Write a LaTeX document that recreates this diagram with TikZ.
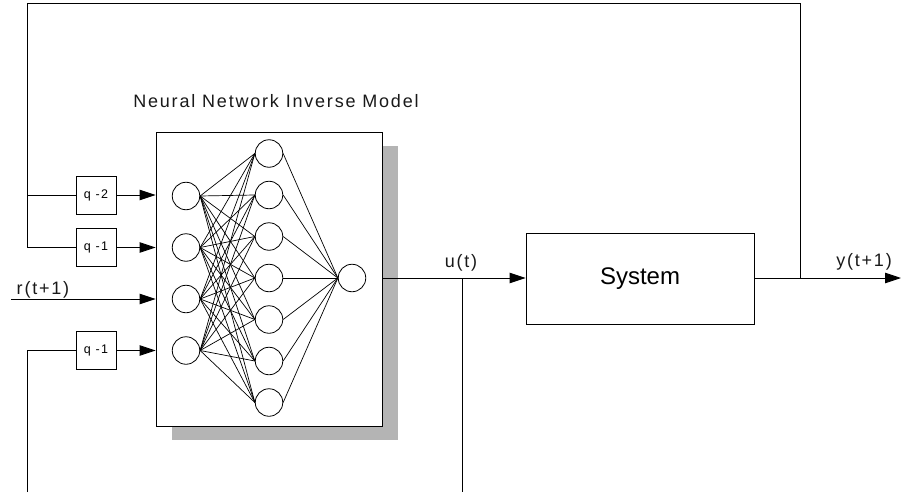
\documentclass[tikz,border=0pt]{standalone}
\usepackage{fontspec}
\setmainfont{Liberation Sans}
\newfontfamily\spaced[LetterSpace=10]{Liberation Sans}
\usetikzlibrary{arrows.meta}
\definecolor{shadowgray}{RGB}{180,180,180}
\begin{document}
\begin{tikzpicture}[x=1pt,y=-1pt,
  wire/.style={draw=black,line width=0.9pt},
  arr/.style={wire,-{Triangle[length=16pt,width=10.5pt]}},
  syn/.style={draw=black,line width=0.7pt},
  neuron/.style={circle,draw,line width=0.8pt,minimum size=27.5pt,inner sep=0pt},
  delay/.style={draw,line width=0.8pt,minimum width=40pt,minimum height=38pt,
    inner sep=0pt,font=\spaced\fontsize{12.5}{14}\selectfont},
  lbl/.style={font=\spaced\fontsize{18}{20}\selectfont,inner sep=0pt,text=black!90},
]
\useasboundingbox (0,0) rectangle (901,492);

% network block with its drop shadow
\fill[shadowgray] (172,146) rectangle (398,440);
\node[draw,fill=white,line width=0.9pt,minimum width=226pt,minimum height=294pt,
  inner sep=0pt] (net) at (269,279) {};
\node[lbl] (title) at (276,101.5) {Neural Network Inverse Model};

% neurons
\foreach \i/\y in {1/196,2/247.5,3/299,4/350.5}
  \node[neuron] (in\i) at (186,\y) {};
\foreach \j/\y in {1/153.5,2/195,3/236.5,4/278,5/319.5,6/361,7/402.5}
  \node[neuron] (h\j) at (269,\y) {};
\node[neuron] (out) at (352,278) {};
\foreach \i in {1,...,4}
  \foreach \j in {1,...,7}
    \draw[syn] (in\i.east) -- (h\j.west);
\foreach \j in {1,...,7}
  \draw[syn] (h\j.east) -- (out.west);

% tapped delays
\node[delay] (d2) at (96,195) {q -2};
\node[delay] (d1) at (96,247.5) {q -1};
\node[delay] (d3) at (96,350.5) {q -1};

% plant
\node[draw,line width=0.9pt,minimum width=228pt,minimum height=91pt,inner sep=0pt,
  font=\fontsize{24}{28}\selectfont] (sys) at (640,278.5) {System};

% coordinates of the wiring
\coordinate (u) at (462,278);
\coordinate (ubot) at (462,492);
\coordinate (fb) at (800,278);
\coordinate (yend) at (901,278);
\coordinate (ftop) at (800,3);
\coordinate (fleft) at (27,3);
\coordinate (f1) at (27,247.5);
\coordinate (f2) at (27,195);
\coordinate (fbot) at (27,492);
\coordinate (f3) at (27,350.5);
\coordinate (rin) at (11,299);

% signal wiring
\draw[arr] (net.east |- u) -- (sys.west |- u);
\draw[wire] (u) -- (ubot);
\draw[arr] (sys.east |- fb) -- (yend);
\draw[wire] (fb) -- (ftop) -- (fleft) -- (f1) -- (d1.west);
\draw[wire] (f2) -- (d2.west);
\draw[wire] (fbot) -- (f3) -- (d3.west);
\draw[arr] (d2.east) -- (net.west |- d2);
\draw[arr] (d1.east) -- (net.west |- d1);
\draw[arr] (d3.east) -- (net.west |- d3);
\draw[arr] (rin) -- (net.west |- rin);

% signal labels
\node[lbl] (ulbl) at (461,263) {u(t)};
\node[lbl] (ylbl) at (864,262) {y(t+1)};
\node[lbl] (rlbl) at (43,289.5) {r(t+1)};
\end{tikzpicture}
\end{document}
